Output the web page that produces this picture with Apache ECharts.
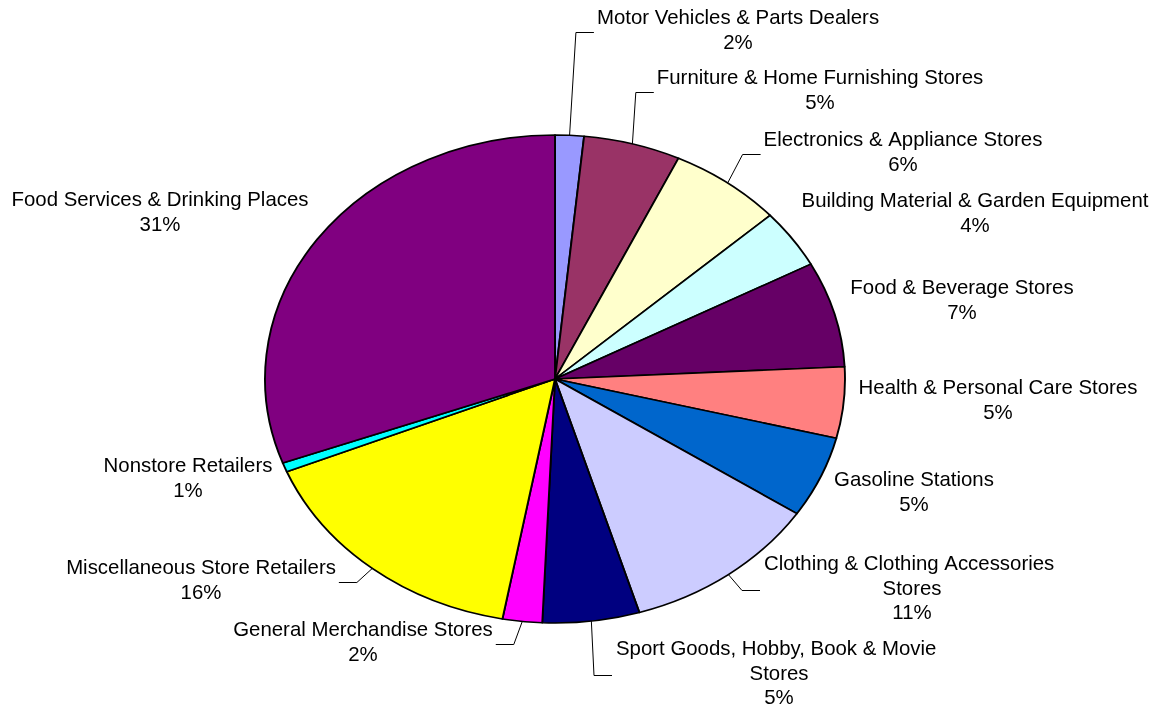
<!DOCTYPE html>
<html>
<head>
<meta charset="utf-8">
<script src="https://cdn.jsdelivr.net/npm/echarts@6/dist/echarts.min.js"></script>
<style>
html,body{margin:0;padding:0;background:#fff;}
#wrap{position:relative;width:1151px;height:706px;overflow:hidden;background:#fff;}
#pie{position:absolute;left:0;top:0;height:706px;transform-origin:0 0;}
#lab{position:absolute;left:0;top:0;width:1151px;height:706px;}
</style>
</head>
<body>
<div id="wrap"><div id="pie"></div><div id="lab"></div></div>
<script>
// ---- data ----
const categories = [
  'Motor Vehicles & Parts Dealers',
  'Furniture & Home Furnishing Stores',
  'Electronics & Appliance Stores',
  'Building Material & Garden Equipment',
  'Food & Beverage Stores',
  'Health & Personal Care Stores',
  'Gasoline Stations',
  'Clothing & Clothing Accessories Stores',
  'Sport Goods, Hobby, Book & Movie Stores',
  'General Merchandise Stores',
  'Miscellaneous Store Retailers',
  'Nonstore Retailers',
  'Food Services & Drinking Places'
];
const shares = [1.6, 5.4, 6.3, 3.9, 7.0, 4.7, 5.4, 11.0, 5.4, 2.2, 15.9, 0.6, 30.6];
const colors = ['#9999FF', '#993366', '#FFFFCC', '#CCFFFF', '#660066', '#FF8080', '#0066CC',
                '#CCCCFF', '#000080', '#FF00FF', '#FFFF00', '#00FFFF', '#800080'];

// ---- label placement (label centres, as placed in the original) ----
const labelAnchors = [[738,31],[820,91],[903,153],[975,214],[962,301],[998,401],[914,493],
                      [912,589],[779,674],[363,643],[201,581],[188,479],[160,213]];
const withLeader = [true,true,true,false,false,false,false,true,true,true,true,false,false];
const wrapWidth = {7: 298, 8: 328};

// ---- geometry of the (stretched) pie ----
const CX = 555, CY = 379, RX = 290, RY = 244;
const SX = RX / RY;

const pieEl = document.getElementById('pie');
pieEl.style.width = (1151 / SX) + 'px';
pieEl.style.transform = 'scaleX(' + SX + ')';

const sliceData = categories.map((n, i) => ({ name: n, value: shares[i], itemStyle: { color: colors[i] } }));

const pieChart = echarts.init(pieEl, null, { renderer: 'svg' });
pieChart.setOption({
  animation: false,
  series: [{
    type: 'pie',
    center: [CX / SX, CY],
    radius: RY,
    startAngle: 90,
    clockwise: true,
    silent: true,
    emphasis: { disabled: true },
    label: { show: false },
    labelLine: { show: false },
    itemStyle: { borderColor: '#000', borderWidth: 1.6 },
    data: sliceData
  }]
});

const labChart = echarts.init(document.getElementById('lab'));
labChart.setOption({
  animation: false,
  series: [{
    type: 'pie',
    center: [CX, CY],
    radius: RY,
    startAngle: 90,
    clockwise: true,
    silent: true,
    avoidLabelOverlap: false,
    percentPrecision: 0,
    emphasis: { disabled: true },
    itemStyle: { color: 'rgba(0,0,0,0)', borderWidth: 0 },
    label: {
      show: true,
      position: 'outside',
      formatter: '{b}\n{d}%',
      fontFamily: '"Liberation Sans", Arial, sans-serif',
      fontSize: 20.4,
      lineHeight: 24.5,
      color: '#000',
      align: 'center'
    },
    labelLine: { show: true, length: 10, length2: 10, lineStyle: { color: '#000', width: 1 } },
    labelLayout: function (params) {
      const i = params.dataIndex;
      const lx = labelAnchors[i][0], ly = labelAnchors[i][1];
      const out = { x: lx, y: ly, align: 'center', verticalAlign: 'middle' };
      const pts = params.labelLinePoints;
      if (withLeader[i] && pts && pts.length) {
        const p0 = [CX + (pts[0][0] - CX) * SX, pts[0][1]];
        const w = params.labelRect.width;
        const leftSide = p0[0] < lx;
        const edge = leftSide ? lx - w / 2 : lx + w / 2;
        const s = leftSide ? -1 : 1;
        const yy = ly + 1.5;
        out.labelLinePoints = [p0, [edge + s * 21, yy], [edge + s * 3, yy]];
      }
      return out;
    },
    data: categories.map((n, i) => {
      const d = { name: n, value: shares[i] };
      if (!withLeader[i]) d.labelLine = { show: false };
      if (wrapWidth[i]) d.label = { width: wrapWidth[i], overflow: 'break' };
      return d;
    })
  }]
});
</script>
</body>
</html>
